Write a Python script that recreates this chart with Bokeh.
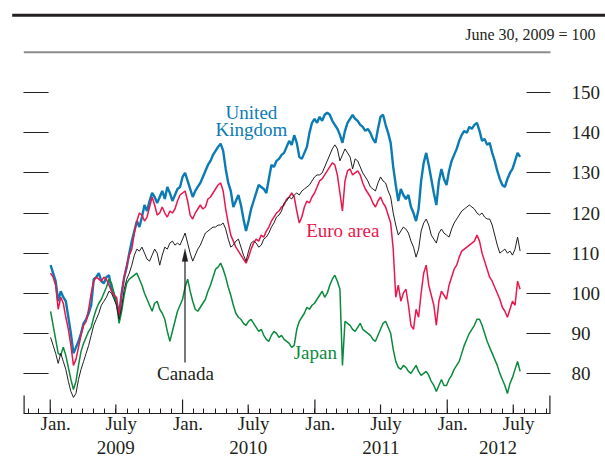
from datetime import datetime, timedelta
from bokeh.plotting import figure
from bokeh.layouts import column
from bokeh.models import Range1d, FixedTicker, LinearAxis, Label, PolyAnnotation
from bokeh.embed import file_html
from bokeh.resources import INLINE
from bokeh.core.properties import value

# ---------------- data (weekly, index June 30, 2009 = 100) ----------------
first_week = datetime(2009, 1, 2)

uk = [107, 105, 103, 98, 100.5, 99, 98, 94, 90, 85,
      86.5, 88, 90, 92.5, 93.5, 95, 97, 103.5, 104, 105,
      103, 102.5, 104, 104.5, 101, 99.5, 97.5, 94.5, 100, 104,
      106.5, 110, 113, 115.5, 118, 116.5, 119, 122, 120.5, 123,
      125, 124, 122.5, 124, 125.5, 123.5, 126.5, 125, 123, 124.5,
      126, 126.5, 129, 130, 128, 126, 124, 125.5, 126.5, 127.5,
      129, 130.5, 132, 133, 134.5, 135.5, 136.5, 137.3, 135.5, 131,
      127.5, 125.5, 121.5, 123, 124.5, 122, 118.5, 115.5, 118, 121,
      123, 125, 127, 126.5, 126, 125, 128.5, 132, 131.5, 133,
      133.5, 134.5, 135, 136.5, 138, 137, 139.4, 137.5, 134, 133.5,
      135, 136.5, 140, 142.5, 143.5, 142.5, 144, 143, 144.5, 145,
      144.5, 143, 142, 141, 139.5, 137.5, 140.5, 142.5, 143.5, 144.5,
      143.5, 143, 142, 141.5, 140.5, 141, 140, 138.5, 137.5, 141,
      144, 144.5, 142, 140, 137.5, 131.5, 127, 123, 126, 124.5,
      123.5, 124.5, 121.5, 120, 118, 121, 128, 132.5, 135, 132,
      128.5, 125, 122, 128, 131, 128.5, 127, 130.5, 133, 134.5,
      136, 138, 139.5, 140.5, 140, 141.5, 141, 142, 142.5, 140.5,
      138, 138.5, 137, 137.5, 135, 133, 130.5, 128.5, 127, 126.5,
      128.5, 130, 131, 133, 135, 134]

euro = [105, 104, 102, 96, 99, 97.5, 94, 91, 87, 82,
        83.5, 86.5, 89.5, 92, 93, 96, 100, 103, 104, 103.5,
        103, 104, 103.5, 102, 100.5, 99.5, 99, 94.5, 100, 104,
        107, 109.5, 111, 115, 118, 120, 119.5, 118, 119, 121.5,
        124, 122, 119.5, 120, 121.5, 120, 119, 120.5, 120, 121,
        123, 124.5, 125, 125.5, 123, 119.5, 118.5, 120, 121, 122,
        121, 121.5, 123.5, 124, 125, 126, 127, 127.5, 125.5, 121,
        117.5, 114.5, 113, 111.5, 110.5, 109.5, 108.5, 107.5, 109, 111,
        112.5, 113.5, 113, 114.5, 114, 115.5, 116.5, 118, 119, 120,
        120.5, 121.5, 122, 123.5, 124, 125, 124, 120.5, 117.5, 119,
        121.5, 123, 122.5, 124, 125, 126.5, 128, 128.5, 129.5, 130.5,
        131.5, 132.5, 132, 129.5, 125, 120.5, 128, 130.5, 131, 129.5,
        130, 130.5, 129.5, 127.5, 126, 125, 124, 122.5, 121.5, 123,
        124, 122.5, 121.5, 119.5, 117.5, 111, 99, 102, 98, 100,
        101, 97, 92, 91, 96, 94, 100, 105, 107, 102,
        99.5, 97, 92, 98, 100.5, 99.5, 98.5, 102, 104, 106,
        107, 109, 110.5, 111, 111.5, 112, 112.5, 113, 114.5, 113,
        110, 108, 106, 104, 103, 101.5, 100, 98.5, 96.5, 95.5,
        94, 96, 98, 97, 103, 101]

canada = [89, 87, 85, 82.5, 85, 83, 81, 78, 75.5, 74,
          75, 78.5, 81, 83, 85, 87, 89.5, 92, 93.5, 95,
          97, 98, 99, 100.5, 100, 98.5, 97, 93.5, 96.5, 101,
          103.5, 105, 107, 109.5, 111, 110.5, 111.5, 110, 108.5, 108,
          109.5, 111, 110, 107, 109.5, 111.5, 111, 112.5, 113, 112,
          112.5, 112, 113.5, 115, 112.5, 110, 108, 109.5, 111, 112,
          113.5, 115, 115.5, 116, 116.5, 116.5, 117, 117, 117.5, 116,
          113.5, 111.5, 112, 113, 113.5, 111.5, 109.5, 108, 110.5, 112.5,
          113, 112.5, 111.5, 112, 113.5, 114, 115, 116.5, 117.5, 119,
          119.5, 120.5, 122.5, 123, 124, 123.5, 124.5, 125, 124.5, 125.5,
          126, 126.5, 127, 128, 129, 129.5, 129.5, 130, 131.5, 133,
          134.5, 136, 137, 136, 133, 134.5, 136, 135, 134, 131,
          133.5, 133, 131.5, 130, 129, 128, 126.5, 126, 125.5, 127.5,
          129, 128, 127.5, 125.5, 124, 120, 117, 114.5, 115.5, 116.5,
          116, 115, 113, 111.5, 109, 111, 115.5, 117.5, 118.5, 117,
          114.5, 113.5, 112.5, 115, 116, 115, 114.5, 114, 116, 117.5,
          118.5, 119.5, 120.5, 121, 121.5, 122, 121.5, 121, 120, 119.5,
          120, 119, 118.5, 118.5, 117, 114.5, 112, 110, 110.5, 111,
          110, 110.5, 109.5, 111, 114, 110.5]

japan = [95.5, 92, 88.5, 85, 84.5, 86.5, 84.5, 81.5, 78.5, 76,
         78, 82, 85.5, 87.5, 89, 90.5, 91.5, 94, 96, 97.5,
         98.5, 100, 101.5, 103.5, 102.5, 100, 97.5, 92.5, 95.5, 99.5,
         102.5, 103.5, 104, 104.5, 105, 103.5, 102, 100, 98.5, 97,
         95.5, 97.5, 98, 96, 95, 93.5, 90.5, 88, 90.5, 93,
         95.5, 97, 98.5, 101.5, 103.5, 100.5, 98, 96, 95.5, 96.5,
         97.5, 98.5, 100.5, 102, 104, 106, 106.5, 107.5, 106, 104,
         101.5, 99.5, 97, 95, 94, 93.5, 92.5, 92, 93, 93.5,
         92.5, 91.5, 90.5, 91, 89.5, 88.5, 88, 89.5, 90.5, 90,
         89, 89.5, 88.5, 88, 87.5, 86.5, 87, 91, 93, 94,
         95, 96.5, 96, 97, 97.5, 98.5, 99.5, 100.5, 99, 100,
         102, 103.5, 104.5, 103, 101, 82, 93, 92.5, 92, 91,
         90.5, 91.5, 92.5, 91, 90.5, 90, 89.5, 88.5, 88, 89.5,
         91, 92.5, 93, 91.5, 90, 86, 83, 81.5, 81, 82,
         81.5, 80.5, 80, 81, 82, 80.5, 79.5, 80, 80.5, 79.5,
         78, 77, 75.5, 77, 78.5, 77, 77, 78.5, 79.5, 81,
         82, 83, 85, 87, 88.5, 90, 91, 92, 93.5, 93.5,
         92, 90, 88, 86.5, 85, 83.5, 82, 80, 78.5, 77,
         75, 77.5, 79, 81, 83, 80.5]

dates = [first_week + timedelta(days=7 * i) for i in range(len(uk))]

y_ticks = [80, 90, 100, 110, 120, 130, 140, 150]
y_tick_labels = ["80", "90", "100", "110", "120", "130", "140", "150"]
month_label_dates = [datetime(2009, 1, 16), datetime(2009, 7, 16), datetime(2010, 1, 16),
                     datetime(2010, 7, 16), datetime(2011, 1, 16), datetime(2011, 7, 16),
                     datetime(2012, 1, 16), datetime(2012, 7, 16)]
month_label_text = ["Jan.", "July", "Jan.", "July", "Jan.", "July", "Jan.", "July"]
year_label_dates = [datetime(2009, 7, 1), datetime(2010, 7, 1), datetime(2011, 7, 2), datetime(2012, 5, 20)]
year_label_text = ["2009", "2010", "2011", "2012"]
jan_ticks = [datetime(y, 1, 1) for y in (2009, 2010, 2011, 2012)]
july_ticks = [datetime(y, 7, 1) for y in (2009, 2010, 2011, 2012)]
month_ticks = [datetime(2008 + (10 + k) // 12, (10 + k) % 12 + 1, 1) for k in range(48)]
x_start = datetime(2008, 10, 19, 7)
x_end = datetime(2012, 10, 11, 19)

# ---------------- style ----------------
INK = "#231f20"
BLUE = "#0b7bb4"
RED = "#e8174d"
GREEN = "#0b8a3e"
FONT = "Liberation Serif"
W = 605

EPOCH = datetime(1970, 1, 1)


def ms(d):
    return (d - EPOCH).total_seconds() * 1000.0


Y0, Y1 = 70, 155.55
FRAME_H = 343
PPU = FRAME_H / (Y1 - Y0)  # pixels per index point
LEFT, RIGHT = 23, 55

# ---------------- header ----------------
HH = 64
h = figure(width=W, height=HH, x_range=Range1d(0, W), y_range=Range1d(HH, 0),
           output_backend="svg", toolbar_location=None,
           min_border_left=0, min_border_right=0, min_border_top=0, min_border_bottom=0,
           x_axis_location=None, y_axis_location=None)
h.frame_align = False
h.outline_line_color = None
h.grid.visible = False
h.segment(x0=[11.7], y0=[14.7], x1=[W], y1=[14.7], line_width=3, line_color=INK)
h.segment(x0=[23.3], y0=[51.8], x1=[550], y1=[51.8], line_width=2, line_color="#8c8c8c")
h.text(x=[595], y=[34], text=["June 30, 2009 = 100"], text_align="right",
       text_baseline="alphabetic", text_font=value(FONT), text_font_size="16px", text_color=INK)

# ---------------- main chart ----------------
MH = 372
p = figure(width=W, height=MH, x_axis_type="datetime",
           x_range=Range1d(ms(x_start), ms(x_end)), y_range=Range1d(Y0, Y1),
           output_backend="svg", toolbar_location=None,
           min_border_left=LEFT, min_border_right=RIGHT, min_border_top=6,
           min_border_bottom=MH - 6 - FRAME_H)
p.outline_line_color = None
p.grid.visible = False

xa = p.xaxis[0]
xa.ticker = FixedTicker(ticks=[ms(d) for d in month_label_dates],
                        minor_ticks=[ms(d) for d in month_ticks])
xa.major_label_overrides = {ms(d): t for d, t in zip(month_label_dates, month_label_text)}
xa.major_tick_in = 0
xa.major_tick_out = 0
xa.major_tick_line_color = None
xa.minor_tick_in = 5
xa.minor_tick_out = 0
xa.minor_tick_line_color = INK
xa.minor_tick_line_width = 1.0
xa.axis_line_color = INK
xa.axis_line_width = 1.2
xa.major_label_standoff = -1
xa.major_label_text_font = FONT
xa.major_label_text_font_size = "19px"
xa.major_label_text_color = INK

ya = p.yaxis[0]
ya.ticker = FixedTicker(ticks=y_ticks, minor_ticks=[])
ya.major_label_overrides = {v: "" for v in y_ticks}
ya.major_tick_in = 25
ya.major_tick_out = 0
ya.minor_tick_in = 0
ya.minor_tick_out = 0
ya.axis_line_color = None
ya.major_tick_line_color = INK
ya.major_tick_line_width = 1.2
ya.major_label_standoff = 0

ra = LinearAxis(ticker=FixedTicker(ticks=y_ticks, minor_ticks=[]),
                major_label_overrides={v: t for v, t in zip(y_ticks, y_tick_labels)},
                major_tick_in=24, major_tick_out=0, minor_tick_in=0, minor_tick_out=0,
                axis_line_color=None, major_tick_line_color=INK, major_tick_line_width=1.2,
                major_label_standoff=21, major_label_text_font=FONT,
                major_label_text_font_size="19px", major_label_text_color=INK)
p.add_layout(ra, "right")

# Jan. and July ticks, axis end posts (inside the frame, rising from the axis)
p.segment(x0=[ms(d) for d in jan_ticks], y0=[Y0] * 4, x1=[ms(d) for d in jan_ticks],
          y1=[Y0 + 14 / PPU] * 4, line_color=INK, line_width=1.2)
p.segment(x0=[ms(d) for d in july_ticks], y0=[Y0] * 4, x1=[ms(d) for d in july_ticks],
          y1=[Y0 + 9 / PPU] * 4, line_color=INK, line_width=1.2)
p.segment(x0=[ms(x_start), ms(x_end)], y0=[Y0, Y0], x1=[ms(x_start), ms(x_end)],
          y1=[Y0 + 18 / PPU] * 2, line_color=INK, line_width=2.4)

# series
p.line(dates, uk, line_color=BLUE, line_width=2.4)
p.line(dates, japan, line_color=GREEN, line_width=1.5)
p.line(dates, euro, line_color=RED, line_width=1.5)
p.line(dates, canada, line_color=INK, line_width=1.0)


def lab(x, y, t, c):
    p.add_layout(Label(x=ms(x), y=y, text=t, text_align="center", text_baseline="alphabetic",
                       text_font=FONT, text_font_size="19px", text_color=c))


lab(datetime(2010, 7, 10), 145.1, "United", BLUE)
lab(datetime(2010, 7, 10), 140.9, "Kingdom", BLUE)
lab(datetime(2011, 3, 19), 115.6, "Euro area", RED)
lab(datetime(2010, 1, 9), 80.05, "Canada", INK)
lab(datetime(2011, 1, 2), 85.3, "Japan", GREEN)

# arrow to Canada
arrow_x = ms(datetime(2010, 1, 7, 17))
half_w = 8.27 * 86400000.0
p.segment(x0=[arrow_x], y0=[82.7], x1=[arrow_x], y1=[108.5], line_color=INK, line_width=1.2)
p.add_layout(PolyAnnotation(xs=[arrow_x - half_w, arrow_x, arrow_x + half_w],
                            ys=[107.9, 111.15, 107.9], fill_color=INK, fill_alpha=1,
                            line_color=INK, line_width=0.5))

# ---------------- year row under the month labels ----------------
FH = 458 - HH - MH
f = figure(width=W, height=FH, x_range=p.x_range, y_range=Range1d(FH, 0),
           output_backend="svg", toolbar_location=None,
           min_border_left=LEFT, min_border_right=RIGHT, min_border_top=0, min_border_bottom=0,
           x_axis_location=None, y_axis_location=None)
f.outline_line_color = None
f.grid.visible = False
f.text(x=[ms(d) for d in year_label_dates], y=[10.8] * len(year_label_dates), text=year_label_text,
       text_align="center", text_baseline="alphabetic", text_font=value(FONT),
       text_font_size="19px", text_color=INK)

layout = column(h, p, f)
open("out.html", "w").write(file_html(layout, INLINE, title="Equity indexes"))
